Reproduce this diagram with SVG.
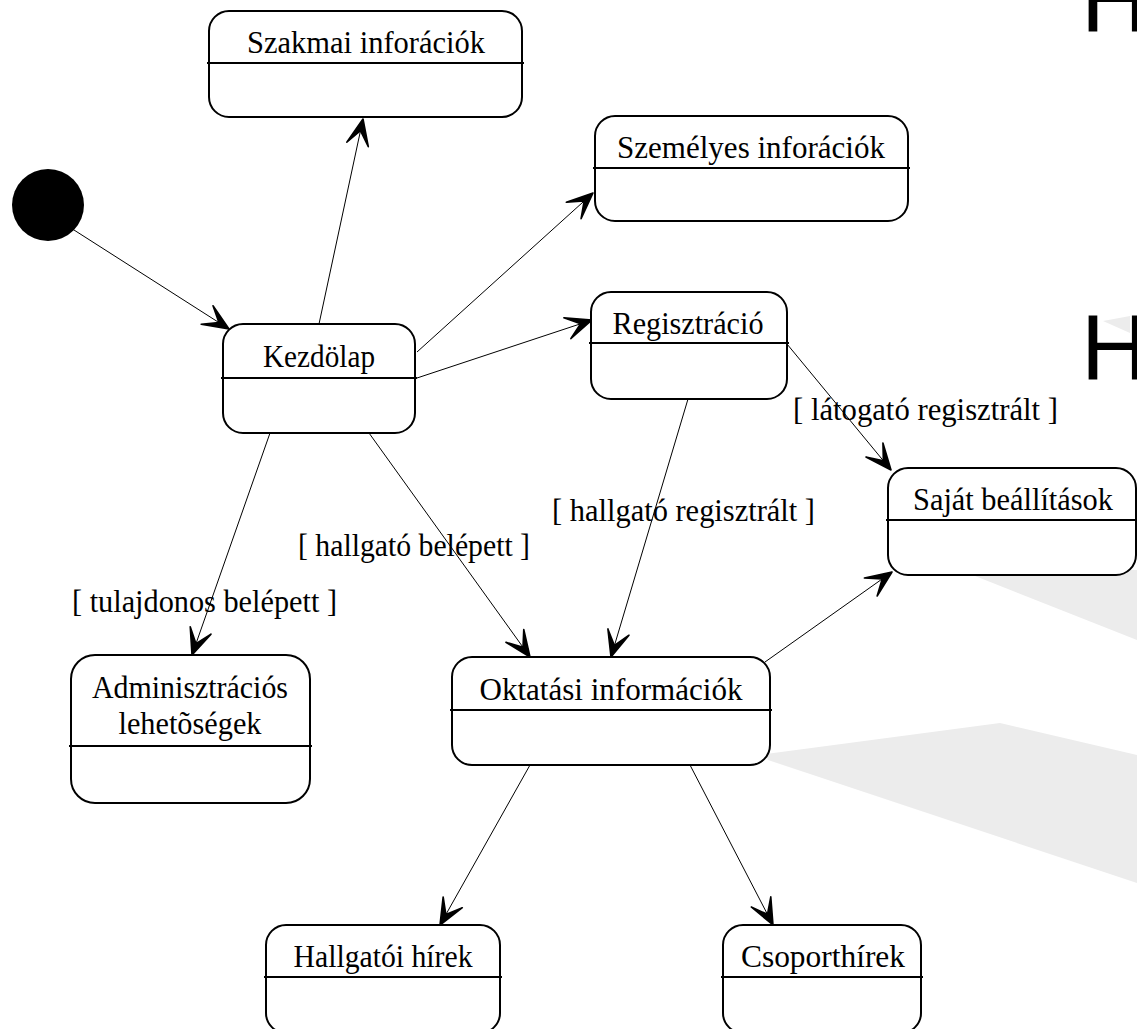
<svg xmlns="http://www.w3.org/2000/svg" width="1137" height="1029" viewBox="0 0 1137 1029">
  <style>
    .box { fill: #ffffff; stroke: #000000; stroke-width: 2; }
    .div { stroke: #000000; stroke-width: 2; }
    .name { font-family: "Liberation Serif", "Times New Roman", serif; font-size: 32px; fill: #000000; text-anchor: middle; }
    .guard { font-family: "Liberation Serif", "Times New Roman", serif; font-size: 32px; fill: #000000; }
    .edge { fill: none; stroke: #000000; stroke-width: 1; marker-end: url(#arrow); }
    .shade { fill: #ececec; }
    .big { font-family: "Liberation Sans", Arial, sans-serif; font-size: 93px; fill: #000000; }
  </style>
  <defs>
    <marker id="arrow" viewBox="-30 -14 32 28" refX="0" refY="0" markerWidth="32" markerHeight="28" markerUnits="userSpaceOnUse" orient="auto">
      <path d="M0,0 L-26,-11 L-12,0 L-26,11 Z" fill="#000000" stroke="#000000" stroke-width="1.6" stroke-linejoin="round"/>
    </marker>
  </defs>

  <rect width="1137" height="1029" fill="#ffffff"/>

  <!-- background shading -->
  <g id="shading">
    <polygon class="shade" points="960,570 1137,570 1137,640"/>
    <polygon class="shade" points="766,754 1000,723 1137,755 1137,883 768,760"/>
    <polygon class="shade" points="1103,321 1130,316 1130,333"/>
  </g>

  <!-- partially visible letters at the right edge -->
  <text class="big" x="1081" y="32">H</text>
  <text class="big" x="1081" y="380">H</text>

  <!-- transitions -->
  <g id="connectors">
    <line class="edge" x1="74" y1="230" x2="229" y2="329"/>
    <line class="edge" x1="319" y1="324" x2="363" y2="119"/>
    <line class="edge" x1="417" y1="352" x2="593" y2="193"/>
    <line class="edge" x1="417" y1="378" x2="592" y2="320"/>
    <line class="edge" x1="270" y1="433" x2="192" y2="655"/>
    <line class="edge" x1="369" y1="433" x2="530" y2="657"/>
    <line class="edge" x1="688" y1="399" x2="611" y2="657"/>
    <line class="edge" x1="787" y1="344" x2="891" y2="470"/>
    <line class="edge" x1="765" y1="662" x2="892" y2="572"/>
    <line class="edge" x1="530" y1="765" x2="440" y2="925"/>
    <line class="edge" x1="690" y1="765" x2="773" y2="925"/>
    <text class="guard" x="72" y="612" textLength="265" lengthAdjust="spacingAndGlyphs">[ tulajdonos belépett ]</text>
    <text class="guard" x="298" y="556" textLength="232" lengthAdjust="spacingAndGlyphs">[ hallgató belépett ]</text>
    <text class="guard" x="552" y="521" textLength="263" lengthAdjust="spacingAndGlyphs">[ hallgató regisztrált ]</text>
    <text class="guard" x="793" y="420" textLength="265" lengthAdjust="spacingAndGlyphs">[ látogató regisztrált ]</text>
  </g>

  <!-- initial state -->
  <g id="initial">
    <circle cx="48" cy="205" r="36" fill="#000000"/>
  </g>

  <g id="szakmai">
    <rect class="box" x="209" y="11" width="313" height="106" rx="20"/>
    <line class="div" x1="207" y1="63" x2="524" y2="63"/>
    <text class="name" x="366" y="53" textLength="238" lengthAdjust="spacingAndGlyphs">Szakmai inforációk</text>
  </g>

  <g id="szemelyes">
    <rect class="box" x="595" y="116" width="313" height="105" rx="20"/>
    <line class="div" x1="593" y1="168" x2="910" y2="168"/>
    <text class="name" x="751" y="158" textLength="268" lengthAdjust="spacingAndGlyphs">Személyes inforációk</text>
  </g>

  <g id="kezdolap">
    <rect class="box" x="223" y="324" width="192" height="109" rx="20"/>
    <line class="div" x1="221" y1="378" x2="417" y2="378"/>
    <text class="name" x="319" y="367" textLength="112" lengthAdjust="spacingAndGlyphs">Kezdölap</text>
  </g>

  <g id="regisztracio">
    <rect class="box" x="591" y="292" width="196" height="107" rx="20"/>
    <line class="div" x1="589" y1="343" x2="789" y2="343"/>
    <text class="name" x="688" y="334" textLength="151" lengthAdjust="spacingAndGlyphs">Regisztráció</text>
  </g>

  <g id="sajat">
    <rect class="box" x="888" y="468" width="248" height="107" rx="20"/>
    <line class="div" x1="886" y1="520" x2="1137" y2="520"/>
    <text class="name" x="1013" y="510" textLength="200" lengthAdjust="spacingAndGlyphs">Saját beállítások</text>
  </g>

  <g id="adminisztracios">
    <rect class="box" x="71" y="655" width="239" height="148" rx="24"/>
    <line class="div" x1="69" y1="746" x2="312" y2="746"/>
    <text class="name" x="190" y="698" textLength="196" lengthAdjust="spacingAndGlyphs">Adminisztrációs</text>
    <text class="name" x="190" y="734" textLength="143" lengthAdjust="spacingAndGlyphs">lehetõségek</text>
  </g>

  <g id="oktatasi">
    <rect class="box" x="452" y="657" width="318" height="108" rx="20"/>
    <line class="div" x1="450" y1="710" x2="772" y2="710"/>
    <text class="name" x="611" y="700" textLength="263" lengthAdjust="spacingAndGlyphs">Oktatási információk</text>
  </g>

  <g id="hallgatoi">
    <rect class="box" x="266" y="925" width="234" height="108" rx="20"/>
    <line class="div" x1="264" y1="977" x2="502" y2="977"/>
    <text class="name" x="383" y="967" textLength="179" lengthAdjust="spacingAndGlyphs">Hallgatói hírek</text>
  </g>

  <g id="csoporthirek">
    <rect class="box" x="723" y="925" width="198" height="108" rx="20"/>
    <line class="div" x1="721" y1="977" x2="923" y2="977"/>
    <text class="name" x="823" y="967" textLength="164" lengthAdjust="spacingAndGlyphs">Csoporthírek</text>
  </g>
</svg>
